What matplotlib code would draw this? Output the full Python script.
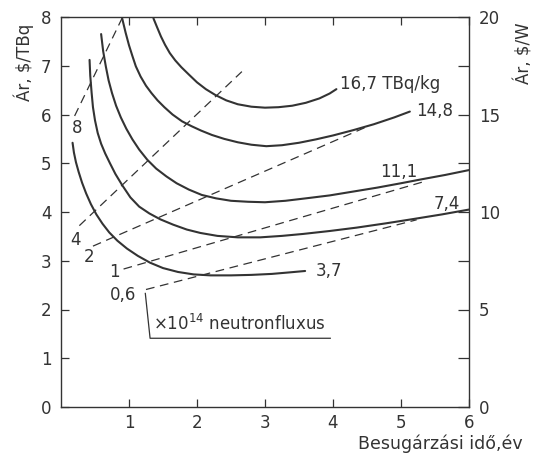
import matplotlib
matplotlib.use("Agg")
import matplotlib.pyplot as plt

# ---- data ----
# solid price curves, labelled by specific activity (TBq/kg)
c37_x = [0.17, 0.19, 0.22, 0.26, 0.31, 0.37, 0.44, 0.52, 0.61, 0.71, 0.83, 0.97, 1.13, 1.31,
         1.50, 1.72, 1.95, 2.20, 2.50, 2.80, 3.10, 3.35, 3.59]
c37_y = [5.42, 5.22, 5.02, 4.82, 4.60, 4.38, 4.16, 3.95, 3.76, 3.58, 3.41, 3.25, 3.10, 2.96,
         2.85, 2.77, 2.72, 2.70, 2.70, 2.71, 2.73, 2.76, 2.79]

c74_x = [0.42, 0.43, 0.45, 0.47, 0.50, 0.54, 0.59, 0.65, 0.72, 0.80, 0.90, 1.02, 1.15, 1.30,
         1.46, 1.65, 1.85, 2.05, 2.30, 2.60, 2.93, 3.25, 3.56, 3.95, 4.35, 4.79, 5.20, 5.60, 6.00]
c74_y = [7.12, 6.80, 6.45, 6.15, 5.88, 5.62, 5.40, 5.20, 5.00, 4.78, 4.55, 4.30, 4.11, 3.97,
         3.85, 3.74, 3.64, 3.57, 3.51, 3.48, 3.48, 3.51, 3.55, 3.61, 3.68, 3.77, 3.86, 3.95, 4.05]

c111_x = [0.59, 0.62, 0.66, 0.70, 0.75, 0.81, 0.88, 0.96, 1.05, 1.15, 1.27, 1.40, 1.55, 1.70,
          1.88, 2.07, 2.28, 2.50, 2.75, 3.00, 3.30, 3.60, 3.95, 4.30, 4.65, 5.00, 5.30, 5.65, 6.00]
c111_y = [7.65, 7.30, 6.98, 6.70, 6.44, 6.18, 5.94, 5.71, 5.49, 5.28, 5.07, 4.89, 4.73, 4.59,
          4.46, 4.35, 4.28, 4.23, 4.21, 4.20, 4.23, 4.28, 4.34, 4.42, 4.50, 4.59, 4.67, 4.76, 4.86]

c148_x = [0.90, 0.95, 1.00, 1.05, 1.10, 1.17, 1.25, 1.33, 1.42, 1.52, 1.64, 1.78, 1.92, 2.06,
          2.22, 2.40, 2.60, 2.80, 3.02, 3.25, 3.50, 3.75, 4.00, 4.30, 4.60, 4.90, 5.13]
c148_y = [7.97, 7.68, 7.42, 7.20, 6.99, 6.78, 6.59, 6.44, 6.29, 6.15, 6.00, 5.86, 5.76, 5.67,
          5.58, 5.50, 5.43, 5.38, 5.35, 5.37, 5.42, 5.49, 5.57, 5.68, 5.80, 5.94, 6.06]

c167_x = [1.36, 1.41, 1.47, 1.53, 1.60, 1.68, 1.77, 1.88, 2.00, 2.13, 2.27, 2.43, 2.60, 2.80,
          3.00, 3.20, 3.40, 3.60, 3.80, 3.95, 4.05]
c167_y = [7.97, 7.80, 7.60, 7.43, 7.26, 7.11, 6.97, 6.82, 6.66, 6.52, 6.40, 6.29, 6.21, 6.16,
          6.14, 6.15, 6.18, 6.24, 6.33, 6.43, 6.52]

curve_labels = ["3,7", "7,4", "11,1", "14,8", "16,7 TBq/kg"]

# dashed iso-flux lines (x 10^14 neutron flux): start and end points
flux_labels = ["8", "4", "2", "1", "0,6"]
flux_x = [[0.20, 0.90], [0.27, 2.66], [0.47, 4.50], [0.92, 5.33], [1.25, 5.23]]
flux_y = [[5.97, 7.98], [3.72, 6.88], [3.30, 5.75], [2.83, 4.62], [2.41, 3.84]]

left_ticks = [0, 1, 2, 3, 4, 5, 6, 7, 8]
right_ticks = [0, 5, 10, 15, 20]
right_minor = [2.5, 7.5, 12.5, 17.5]
x_ticks = [1, 2, 3, 4, 5, 6]

# ---- styling ----
INK = "#333333"
plt.rcParams["font.family"] = ["DejaVu Sans"]
plt.rcParams["font.size"] = 12

fig = plt.figure(figsize=(5.38, 4.59), dpi=100)
ax = fig.add_axes([61/538, 1-407/459, (469-61)/538, (407-17)/459])
ax.set_xlim(0, 6)
ax.set_ylim(0, 8)

curves = [(c37_x, c37_y), (c74_x, c74_y), (c111_x, c111_y), (c148_x, c148_y), (c167_x, c167_y)]
for cx, cy in curves:
    ax.plot(cx, cy, color=INK, lw=1.5, solid_capstyle="round", solid_joinstyle="round")

for fx, fy in zip(flux_x, flux_y):
    ax.plot(fx, fy, color=INK, lw=0.9, linestyle=(0, (7, 4.5)))

# curve labels
ax.text(3.74, 2.79, curve_labels[0], ha="left", va="center", color=INK)
ax.text(5.67, 4.17, curve_labels[1], ha="center", va="center", color=INK)
ax.text(4.96, 4.82, curve_labels[2], ha="center", va="center", color=INK)
ax.text(5.22, 6.07, curve_labels[3], ha="left", va="center", color=INK)
ax.text(4.10, 6.62, curve_labels[4], ha="left", va="center", color=INK)

# flux labels
flux_pos = [(0.235, 5.72), (0.21, 3.42), (0.42, 3.08), (0.79, 2.76), (0.92, 2.30)]
for lab, (px, py) in zip(flux_labels, flux_pos):
    ax.text(px, py, lab, ha="center", va="center", color=INK)

# neutron flux annotation
ax.plot([1.24, 1.31, 3.96], [2.33, 1.41, 1.41], color=INK, lw=0.9)
ax.text(1.36, 1.50, r"$\times 10^{14}$ neutronfluxus", ha="left", va="bottom", color=INK,
        fontsize=12)

# axes / ticks
for s in ax.spines.values():
    s.set_color(INK)
    s.set_linewidth(1.0)
ax.set_yticks(left_ticks)
ax.set_xticks(x_ticks)
ax.tick_params(axis="both", direction="in", length=6, width=0.9, color=INK,
               labelcolor=INK, labelsize=12, pad=7, top=True)
ax.tick_params(axis="x", labeltop=False, pad=5)

ax2 = ax.twinx()
ax2.set_ylim(0, 20)
ax2.set_yticks(right_ticks)
ax2.set_yticks(right_minor, minor=True)
ax2.tick_params(axis="y", which="both", direction="in", length=8, width=0.9, color=INK,
                labelcolor=INK, labelsize=12, pad=7)
for s in ax2.spines.values():
    s.set_visible(False)

fig.text(24/538, 1-62/459, "Ár, $/TBq", rotation=90, ha="center", va="center", color=INK, fontsize=12)
fig.text(524/538, 1-53/459, "Ár, $/W", rotation=90, ha="center", va="center", color=INK, fontsize=12)
fig.text(523/538, 1-444/459, "Besugárzási idő,év", ha="right", va="center", color=INK, fontsize=12.5)

fig.savefig("out.png", dpi=100, facecolor="white")
